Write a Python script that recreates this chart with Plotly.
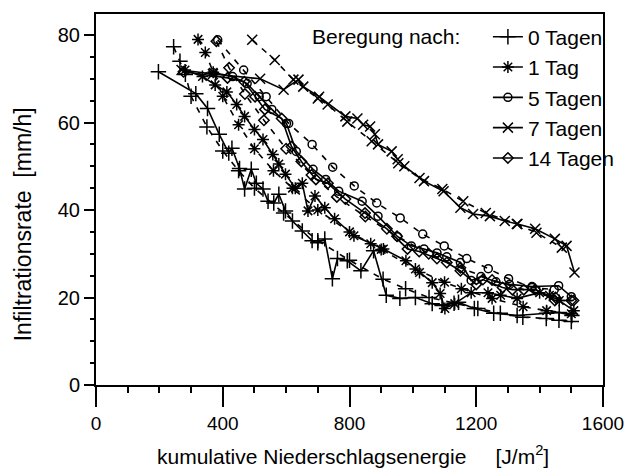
import plotly.graph_objects as go

# Kumulative Niederschlagsenergie [J/m²] und Infiltrationsrate [mm/h]
# Messwerte (durchgezogen) je Vorbefeuchtung
x_0 = [197, 315, 352, 389, 419, 429, 453, 469, 490, 506, 527, 543, 561, 577, 598, 620, 651, 682,
       700, 722, 746, 762, 793, 836, 876, 916, 959, 1008, 1061, 1092, 1144, 1194, 1255, 1329,
       1422, 1462, 1502]
y_0 = [71.6, 66.6, 63.2, 57.3, 53.0, 54.1, 49.5, 44.8, 49.3, 46.1, 44.8, 42.0, 41.6, 43.6, 39.8,
       37.5, 35.2, 33.0, 32.5, 33.4, 24.3, 28.9, 28.4, 26.1, 30.7, 20.5, 19.8, 20.0, 18.6, 18.2,
       18.9, 17.5, 16.4, 15.9, 16.4, 16.6, 15.9]

x_1 = [281, 336, 376, 413, 444, 469, 500, 527, 558, 577, 598, 629, 651, 669, 691, 722, 753, 814,
       867, 907, 978, 1021, 1061, 1086, 1101, 1132, 1184, 1237, 1277, 1329, 1400, 1431, 1462, 1508]
y_1 = [72.0, 70.5, 68.6, 67.0, 64.1, 61.4, 58.4, 56.1, 52.7, 50.5, 48.2, 45.0, 46.1, 39.8, 43.2,
       40.5, 38.0, 34.1, 32.3, 31.1, 28.4, 25.7, 23.4, 20.9, 17.5, 18.6, 21.1, 21.1, 20.5, 19.8,
       21.1, 20.5, 19.3, 17.0]

x_5 = [369, 431, 477, 515, 555, 601, 632, 685, 725, 766, 840, 890, 952, 995, 1035, 1076, 1107,
       1150, 1184, 1215, 1262, 1305, 1376, 1460, 1500]
y_5 = [71.4, 70.5, 68.9, 65.9, 63.0, 59.8, 53.4, 49.3, 47.0, 44.3, 42.0, 38.6, 33.9, 31.8, 31.1,
       30.2, 29.3, 28.0, 23.9, 24.8, 23.6, 23.0, 22.5, 22.7, 20.2]

x_7 = [270, 369, 518, 592, 639, 654, 704, 787, 825, 843, 865, 880, 890, 933, 952, 973, 1035, 1097,
       1150, 1190, 1243, 1290, 1330, 1386, 1448, 1485, 1510]
y_7 = [72.0, 71.1, 70.0, 67.5, 69.8, 68.2, 65.9, 61.4, 60.9, 59.5, 59.1, 57.3, 55.0, 53.4, 51.6,
       50.0, 46.6, 44.3, 40.5, 39.1, 38.6, 37.5, 36.8, 35.7, 33.4, 31.8, 25.7]

x_14 = [276, 415, 468, 502, 533, 586, 617, 648, 694, 732, 787, 849, 918, 983, 1020, 1076, 1107,
        1150, 1200, 1221, 1283, 1314, 1386, 1448, 1507]
y_14 = [71.6, 70.2, 69.3, 65.9, 63.0, 60.9, 54.5, 51.1, 47.0, 46.1, 42.5, 39.3, 35.7, 31.1, 30.5,
        28.9, 28.0, 26.1, 23.0, 24.1, 22.3, 21.8, 21.8, 19.3, 19.3]

# Angepasste Kurven (gestrichelt)
fx_0 = [245, 265, 282, 300, 350, 400, 450, 500, 592, 700, 800, 906, 977, 1051, 1130, 1205, 1276,
        1347, 1421, 1461, 1500]
fy_0 = [77.3, 74.0, 71.0, 66.0, 59.0, 53.5, 49.0, 45.0, 39.3, 33.0, 28.5, 24.2, 22.0, 20.0, 18.7,
        17.5, 16.4, 15.5, 15.2, 14.8, 14.5]

fx_1 = [322, 345, 370, 400, 450, 500, 560, 620, 700, 800, 900, 1008, 1100, 1153, 1250, 1348, 1422,
        1500]
fy_1 = [79.0, 76.0, 71.5, 66.0, 59.5, 54.0, 49.0, 45.0, 40.0, 35.0, 31.0, 26.5, 23.5, 22.0, 19.8,
        17.9, 17.0, 16.3]

fx_5 = [384, 466, 537, 608, 682, 747, 815, 886, 960, 1031, 1099, 1170, 1238, 1302, 1376, 1446]
fy_5 = [78.9, 72.0, 65.9, 59.8, 55.0, 49.8, 45.5, 41.6, 38.2, 34.5, 31.8, 28.9, 26.6, 24.3, 22.3,
        21.8]

fx_7 = [493, 564, 623, 700, 731, 793, 870, 954, 1021, 1093, 1159, 1230, 1328, 1390, 1470]
fy_7 = [78.9, 74.3, 69.8, 65.5, 64.1, 60.2, 55.7, 50.7, 47.3, 44.8, 42.0, 39.3, 36.8, 34.8, 31.4]

fx_14 = [380, 420, 470, 530, 600, 680, 760, 850, 950, 1050, 1150, 1250, 1350, 1450, 1500]
fy_14 = [78.6, 72.5, 66.5, 60.5, 54.0, 48.0, 43.0, 38.5, 34.0, 30.0, 26.8, 24.0, 21.8, 20.0, 19.3]

names = ["0 Tagen", "1 Tag", "5 Tagen", "7 Tagen", "14 Tagen"]
symbols = ["cross-thin", "asterisk", "circle-open", "x-thin", "diamond-open"]
sizes = [11, 10, 8, 10, 8]
measured = [(x_0, y_0), (x_1, y_1), (x_5, y_5), (x_7, y_7), (x_14, y_14)]
fitted = [(fx_0, fy_0), (fx_1, fy_1), (fx_5, fy_5), (fx_7, fy_7), (fx_14, fy_14)]

FONT = "Arial, Liberation Sans, sans-serif"
fig = go.Figure()

for (fx, fy), sym, sz, nm in zip(fitted, symbols, sizes, names):
    fig.add_trace(go.Scatter(
        x=fx, y=fy, mode="lines+markers", showlegend=False, name=nm,
        line=dict(color="black", width=1.6, dash="6px,7px"),
        marker=dict(symbol=sym, size=sz, color="black",
                    line=dict(color="black", width=1.5)),
    ))

for (mx, my), sym, sz, nm in zip(measured, symbols, sizes, names):
    fig.add_trace(go.Scatter(
        x=mx, y=my, mode="lines+markers", name=nm,
        line=dict(color="black", width=1.6),
        marker=dict(symbol=sym, size=sz, color="black",
                    line=dict(color="black", width=1.5)),
    ))

fig.update_layout(
    width=636, height=469,
    margin=dict(l=96, r=24, t=12, b=84),
    paper_bgcolor="white", plot_bgcolor="white",
    font=dict(family=FONT, color="black", size=19),
    showlegend=True,
    legend=dict(
        x=0.773, y=0.993, xanchor="left", yanchor="top",
        font=dict(family=FONT, size=21, color="black"),
        bgcolor="rgba(0,0,0,0)", borderwidth=0, itemwidth=30,
        traceorder="normal",
    ),
    xaxis=dict(
        range=[0, 1600], tickvals=[0, 400, 800, 1200, 1600],
        ticks="outside", ticklen=20, tickwidth=2, tickcolor="black",
        minor=dict(dtick=100, ticks="outside", ticklen=6, tickwidth=1.5, tickcolor="black"),
        showline=True, linecolor="black", linewidth=2, mirror=True,
        showgrid=False, zeroline=False, tickfont=dict(size=19),
    ),
    yaxis=dict(
        range=[0, 84.8], tickvals=[0, 20, 40, 60, 80],
        ticks="outside", ticklen=10, tickwidth=2, tickcolor="black",
        minor=dict(dtick=5, ticks="outside", ticklen=4, tickwidth=1.5, tickcolor="black"),
        showline=True, linecolor="black", linewidth=2, mirror=True,
        showgrid=False, zeroline=False, tickfont=dict(size=20),
    ),
    annotations=[
        dict(text="Infiltrationsrate  [mm/h]", xref="paper", yref="paper",
             x=-0.1434, y=0.434, textangle=-90, showarrow=False,
             font=dict(size=23), xanchor="center", yanchor="middle"),
        dict(text="kumulative Niederschlagsenergie &nbsp; &nbsp; [J/m<sup>2</sup>]",
             xref="paper", yref="paper", x=0.506, y=-0.19, showarrow=False,
             font=dict(size=21), xanchor="center", yanchor="middle"),
        dict(text="Beregung nach:", xref="paper", yref="paper",
             x=0.722, y=0.94, showarrow=False, font=dict(size=21),
             xanchor="right", yanchor="middle"),
    ],
)

fig.write_html("out.html")
